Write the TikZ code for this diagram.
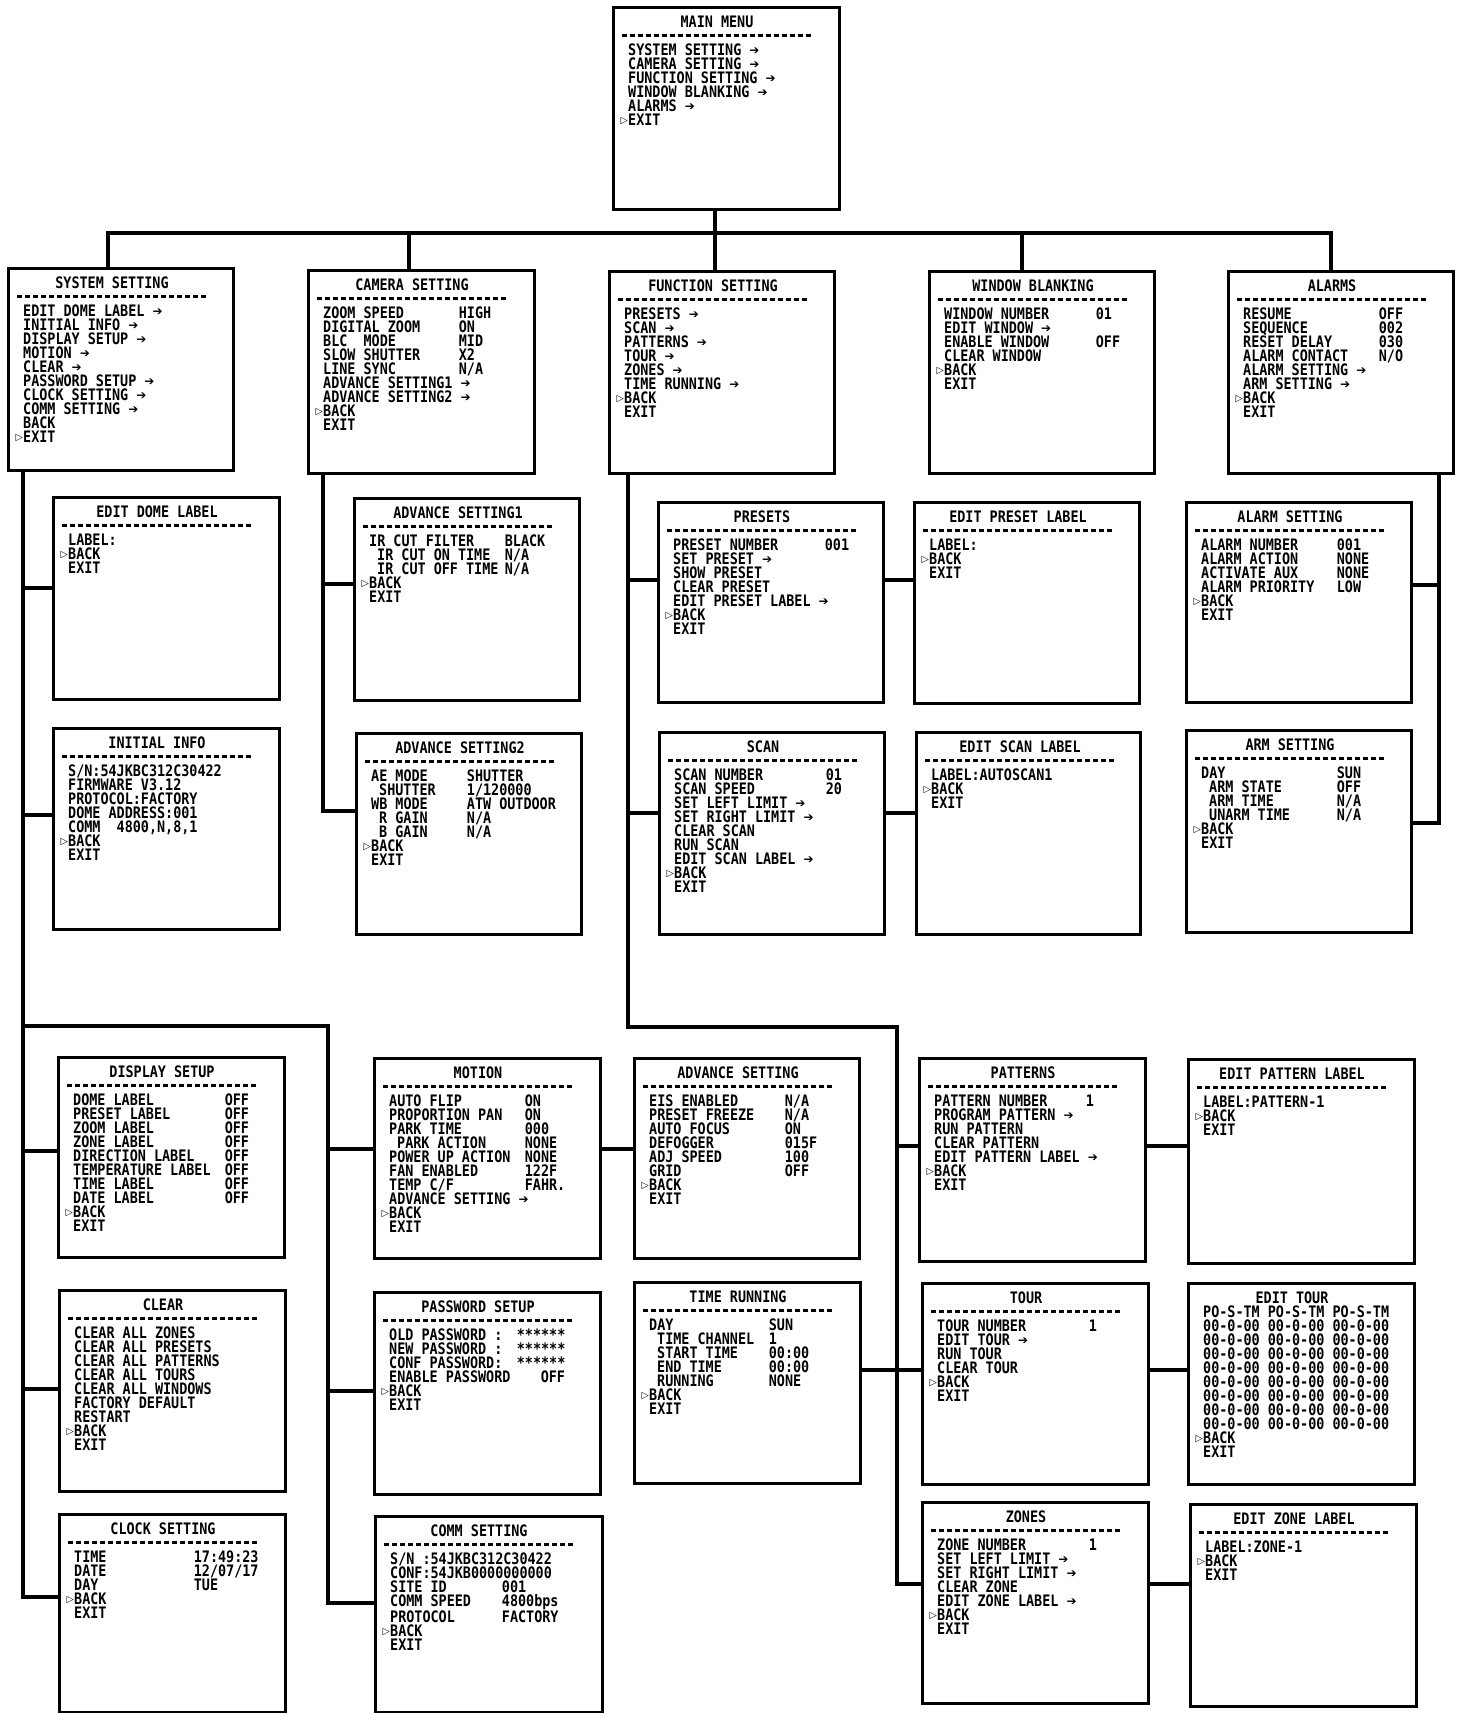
\documentclass[tikz,border=0pt]{standalone}
\usepackage{fontspec}
\usetikzlibrary{calc}

\newfontfamily\osdfam[FakeStretch=0.85]{DejaVu Sans Mono}
\newfontfamily\symfam{DejaVu Sans}
\newcommand{\osdfont}{\osdfam\bfseries\fontsize{15.8}{14}\selectfont}
\newlength{\cw}
\setlength{\cw}{7.98pt}
\newcommand{\mk}{\llap{\raisebox{1.5pt}{\symfam\fontsize{9.5}{14}\selectfont ▷}\hspace{0.3pt}}}
\newcommand{\ar}{\raisebox{0.8pt}{\symfam\fontsize{12}{14}\selectfont ➔}}
\newcommand{\kv}[3]{\makebox[#1\cw][l]{#2}#3}
\newcommand{\ind}{\hspace*{\cw}}
% one OSD screen: name, x, y, width, height, title, lines
\newcommand{\osdmenu}[7]{%
  \node[menubox, minimum width=#4pt, minimum height=#5pt] (#1) at (#2,#3) {};
  \node[menutitle] at ($(#1.north west)+(105,21.5)$) {#6};
  \draw[menudash] ($(#1.north west)+(10,29)$) -- ++(190,0);
  \node[menutext] at ($(#1.north west)+(16,36)$) {\rule{0pt}{13pt}#7};}

\begin{document}
\begin{tikzpicture}[x=1pt, y=-1pt,
    menubox/.style={draw, line width=3.2pt, anchor=north west, inner sep=0pt},
    menutitle/.style={anchor=base, inner sep=0pt, font=\osdfont},
    menutext/.style={anchor=north west, align=left, inner sep=0pt, font=\osdfont},
    menudash/.style={line width=3pt, dash pattern=on 5pt off 3pt},
    link/.style={line width=3.2pt}
  ]
  \fill[white] (0,0) rectangle (1458,1713);
  \useasboundingbox (0,0) rectangle (1458,1713);

  % ================= Top level =================
  \osdmenu{main}{612}{6}{226}{202}{MAIN MENU}{SYSTEM SETTING \ar\\CAMERA SETTING \ar\\FUNCTION SETTING \ar\\WINDOW BLANKING \ar\\ALARMS \ar\\\mk EXIT}

  \osdmenu{sys}{7}{267}{225}{202}{SYSTEM SETTING}{EDIT DOME LABEL \ar\\INITIAL INFO \ar\\DISPLAY SETUP \ar\\MOTION \ar\\CLEAR \ar\\PASSWORD SETUP \ar\\CLOCK SETTING \ar\\COMM SETTING \ar\\BACK\\\mk EXIT}
  \osdmenu{cam}{307}{269}{226}{203}{CAMERA SETTING}{\kv{17}{ZOOM SPEED}{HIGH}\\\kv{17}{DIGITAL ZOOM}{ON}\\\kv{17}{BLC\ \ MODE}{MID}\\\kv{17}{SLOW SHUTTER}{X2}\\\kv{17}{LINE SYNC}{N/A}\\ADVANCE SETTING1 \ar\\ADVANCE SETTING2 \ar\\\mk BACK\\EXIT}
  \osdmenu{func}{608}{270}{225}{202}{FUNCTION SETTING}{PRESETS \ar\\SCAN \ar\\PATTERNS \ar\\TOUR \ar\\ZONES \ar\\TIME RUNNING \ar\\\mk BACK\\EXIT}
  \osdmenu{win}{928}{270}{225}{202}{WINDOW BLANKING}{\kv{19}{WINDOW NUMBER}{01}\\EDIT WINDOW \ar\\\kv{19}{ENABLE WINDOW}{OFF}\\CLEAR WINDOW\\\mk BACK\\EXIT}
  \osdmenu{alarms}{1227}{270}{225}{202}{ALARMS}{\kv{17}{RESUME}{OFF}\\\kv{17}{SEQUENCE}{002}\\\kv{17}{RESET DELAY}{030}\\\kv{17}{ALARM CONTACT}{N/O}\\ALARM SETTING \ar\\ARM SETTING \ar\\\mk BACK\\EXIT}

  % ================= Second row =================
  \osdmenu{edl}{52}{496}{226}{202}{EDIT DOME LABEL}{LABEL:\\\mk BACK\\EXIT}
  \osdmenu{init}{52}{727}{226}{201}{INITIAL INFO}{S/N:54JKBC312C30422\\FIRMWARE V3.12\\PROTOCOL:FACTORY\\DOME ADDRESS:001\\COMM\ \ 4800,N,8,1\\\mk BACK\\EXIT}
  \osdmenu{adv1}{353}{497}{225}{202}{ADVANCE SETTING1}{\kv{17}{IR CUT FILTER}{BLACK}\\\kv{17}{\ind IR CUT ON TIME}{N/A}\\\kv{17}{\ind IR CUT OFF TIME}{N/A}\\\mk BACK\\EXIT}
  \osdmenu{adv2}{355}{732}{225}{201}{ADVANCE SETTING2}{\kv{12}{AE MODE}{SHUTTER}\\\kv{12}{\ind SHUTTER}{1/120000}\\\kv{12}{WB MODE}{ATW OUTDOOR}\\\kv{12}{\ind R GAIN}{N/A}\\\kv{12}{\ind B GAIN}{N/A}\\\mk BACK\\EXIT}
  \osdmenu{presets}{657}{501}{225}{200}{PRESETS}{\kv{19}{PRESET NUMBER}{001}\\SET PRESET \ar\\SHOW PRESET\\CLEAR PRESET\\EDIT PRESET LABEL \ar\\\mk BACK\\EXIT}
  \osdmenu{epl}{913}{501}{225}{201}{EDIT PRESET LABEL}{LABEL:\\\mk BACK\\EXIT}
  \osdmenu{alset}{1185}{501}{225}{200}{ALARM SETTING}{\kv{17}{ALARM NUMBER}{001}\\\kv{17}{ALARM ACTION}{NONE}\\\kv{17}{ACTIVATE AUX}{NONE}\\\kv{17}{ALARM PRIORITY}{LOW}\\\mk BACK\\EXIT}
  \osdmenu{scan}{658}{731}{225}{202}{SCAN}{\kv{19}{SCAN NUMBER}{01}\\\kv{19}{SCAN SPEED}{20}\\SET LEFT LIMIT \ar\\SET RIGHT LIMIT \ar\\CLEAR SCAN\\RUN SCAN\\EDIT SCAN LABEL \ar\\\mk BACK\\EXIT}
  \osdmenu{esl}{915}{731}{224}{202}{EDIT SCAN LABEL}{LABEL:AUTOSCAN1\\\mk BACK\\EXIT}
  \osdmenu{arm}{1185}{729}{225}{202}{ARM SETTING}{\kv{17}{DAY}{SUN}\\\kv{17}{\ind ARM STATE}{OFF}\\\kv{17}{\ind ARM TIME}{N/A}\\\kv{17}{\ind UNARM TIME}{N/A}\\\mk BACK\\EXIT}

  % ================= Lower part =================
  \osdmenu{disp}{57}{1056}{226}{200}{DISPLAY SETUP}{\kv{19}{DOME LABEL}{OFF}\\\kv{19}{PRESET LABEL}{OFF}\\\kv{19}{ZOOM LABEL}{OFF}\\\kv{19}{ZONE LABEL}{OFF}\\\kv{19}{DIRECTION LABEL}{OFF}\\\kv{19}{TEMPERATURE LABEL}{OFF}\\\kv{19}{TIME LABEL}{OFF}\\\kv{19}{DATE LABEL}{OFF}\\\mk BACK\\EXIT}
  \osdmenu{motion}{373}{1057}{226}{200}{MOTION}{\kv{17}{AUTO FLIP}{ON}\\\kv{17}{PROPORTION PAN}{ON}\\\kv{17}{PARK TIME}{000}\\\kv{17}{\ind PARK ACTION}{NONE}\\\kv{17}{POWER UP ACTION}{NONE}\\\kv{17}{FAN ENABLED}{122F}\\\kv{17}{TEMP C/F}{FAHR.}\\ADVANCE SETTING \ar\\\mk BACK\\EXIT}
  \osdmenu{advs}{633}{1057}{225}{200}{ADVANCE SETTING}{\kv{17}{EIS ENABLED}{N/A}\\\kv{17}{PRESET FREEZE}{N/A}\\\kv{17}{AUTO FOCUS}{ON}\\\kv{17}{DEFOGGER}{015F}\\\kv{17}{ADJ SPEED}{100}\\\kv{17}{GRID}{OFF}\\\mk BACK\\EXIT}
  \osdmenu{pat}{918}{1057}{226}{203}{PATTERNS}{\kv{19}{PATTERN NUMBER}{1}\\PROGRAM PATTERN \ar\\RUN PATTERN\\CLEAR PATTERN\\EDIT PATTERN LABEL \ar\\\mk BACK\\EXIT}
  \osdmenu{epat}{1187}{1058}{226}{204}{EDIT PATTERN LABEL}{LABEL:PATTERN-1\\\mk BACK\\EXIT}

  \osdmenu{clear}{58}{1289}{226}{201}{CLEAR}{CLEAR ALL ZONES\\CLEAR ALL PRESETS\\CLEAR ALL PATTERNS\\CLEAR ALL TOURS\\CLEAR ALL WINDOWS\\FACTORY DEFAULT\\RESTART\\\mk BACK\\EXIT}
  \osdmenu{pwd}{373}{1291}{226}{202}{PASSWORD SETUP}{\kv{16}{OLD PASSWORD :}{******}\\\kv{16}{NEW PASSWORD :}{******}\\\kv{16}{CONF PASSWORD:}{******}\\\kv{19}{ENABLE PASSWORD}{OFF}\\\mk BACK\\EXIT}
  \osdmenu{trun}{633}{1281}{226}{201}{TIME RUNNING}{\kv{15}{DAY}{SUN}\\\kv{15}{\ind TIME CHANNEL}{1}\\\kv{15}{\ind START TIME}{00:00}\\\kv{15}{\ind END TIME}{00:00}\\\kv{15}{\ind RUNNING}{NONE}\\\mk BACK\\EXIT}
  \osdmenu{tour}{921}{1282}{226}{201}{TOUR}{\kv{19}{TOUR NUMBER}{1}\\EDIT TOUR \ar\\RUN TOUR\\CLEAR TOUR\\\mk BACK\\EXIT}

  % Edit tour has no dashed rule
  \node[menubox, minimum width=226pt, minimum height=201pt] (etour) at (1187,1282) {};
  \node[menutitle] at ($(etour.north west)+(105,21)$) {EDIT TOUR};
  \node[menutext] at ($(etour.north west)+(16,22)$) {\rule{0pt}{13pt}PO-S-TM PO-S-TM PO-S-TM\\00-0-00 00-0-00 00-0-00\\00-0-00 00-0-00 00-0-00\\00-0-00 00-0-00 00-0-00\\00-0-00 00-0-00 00-0-00\\00-0-00 00-0-00 00-0-00\\00-0-00 00-0-00 00-0-00\\00-0-00 00-0-00 00-0-00\\00-0-00 00-0-00 00-0-00\\\mk BACK\\EXIT};

  \osdmenu{clock}{58}{1513}{226}{198}{CLOCK SETTING}{\kv{15}{TIME}{17:49:23}\\\kv{15}{DATE}{12/07/17}\\\kv{15}{DAY}{TUE}\\\mk BACK\\EXIT}
  \osdmenu{comm}{374}{1515}{227}{196}{COMM SETTING}{S/N :54JKBC312C30422\\CONF:54JKB0000000000\\\kv{14}{SITE ID}{001}\\\kv{14}{COMM SPEED}{4800bps}\\\kv{14}{PROTOCOL}{FACTORY}\\\mk BACK\\EXIT}
  \osdmenu{zones}{921}{1501}{226}{201}{ZONES}{\kv{19}{ZONE NUMBER}{1}\\SET LEFT LIMIT \ar\\SET RIGHT LIMIT \ar\\CLEAR ZONE\\EDIT ZONE LABEL \ar\\\mk BACK\\EXIT}
  \osdmenu{ezone}{1189}{1503}{226}{202}{EDIT ZONE LABEL}{LABEL:ZONE-1\\\mk BACK\\EXIT}

  % ================= Connectors =================
  \coordinate (busL) at (108,233);
  \coordinate (busR) at (1331,233);
  \coordinate (b2) at (409,233);
  \coordinate (mj) at (715,233);
  \coordinate (b4) at (1022,233);
  \draw[link] (main.south -| mj) -- (func.north -| mj);
  \draw[link] (sys.north -| busL) -- (busL) -- (busR) -- (alarms.north -| busR);
  \draw[link] (b2) -- (cam.north -| b2);
  \draw[link] (b4) -- (win.north -| b4);

  % system setting branches
  \coordinate (s1) at (23,588);
  \coordinate (s2) at (23,815);
  \coordinate (s3) at (23,1026);
  \coordinate (s4) at (23,1151);
  \coordinate (s5) at (23,1389);
  \coordinate (s6) at (23,1597);
  \draw[link] (sys.south -| s1) -- (s6) -- (s6 -| clock.west);
  \draw[link] (s1) -- (s1 -| edl.west);
  \draw[link] (s2) -- (s2 -| init.west);
  \draw[link] (s4) -- (s4 -| disp.west);
  \draw[link] (s5) -- (s5 -| clear.west);
  \coordinate (m0) at (328,1026);
  \coordinate (m1) at (328,1149);
  \coordinate (m2) at (328,1391);
  \coordinate (m3) at (328,1603);
  \draw[link] (s3) -- (m0) -- (m3) -- (m3 -| comm.west);
  \draw[link] (m1) -- (m1 -| motion.west);
  \draw[link] (m2) -- (m2 -| pwd.west);
  \draw[link] (motion.east |- m1) -- (m1 -| advs.west);

  % camera setting branches
  \coordinate (c1) at (323,584);
  \coordinate (c2) at (323,811);
  \draw[link] (cam.south -| c1) -- (c2) -- (c2 -| adv2.west);
  \draw[link] (c1) -- (c1 -| adv1.west);

  % function setting branches
  \coordinate (f1) at (628,580);
  \coordinate (f2) at (628,813);
  \coordinate (f3) at (628,1027);
  \coordinate (p0) at (897,1027);
  \coordinate (p1) at (897,1146);
  \coordinate (p2) at (897,1370);
  \coordinate (p3) at (897,1584);
  \draw[link] (func.south -| f1) -- (f3) -- (p0) -- (p3) -- (p3 -| zones.west);
  \draw[link] (f1) -- (f1 -| presets.west);
  \draw[link] (f2) -- (f2 -| scan.west);
  \draw[link] (presets.east |- f1) -- (f1 -| epl.west);
  \draw[link] (scan.east |- f2) -- (f2 -| esl.west);
  \draw[link] (p1) -- (p1 -| pat.west);
  \draw[link] (trun.east |- p2) -- (p2 -| tour.west);
  \draw[link] (pat.east |- p1) -- (p1 -| epat.west);
  \draw[link] (tour.east |- p2) -- (p2 -| etour.west);
  \draw[link] (zones.east |- p3) -- (p3 -| ezone.west);

  % alarms branches
  \coordinate (a1) at (1439,585);
  \coordinate (a2) at (1439,823);
  \draw[link] (alarms.south -| a1) -- (a2) -- (a2 -| arm.east);
  \draw[link] (a1) -- (a1 -| alset.east);
\end{tikzpicture}
\end{document}
